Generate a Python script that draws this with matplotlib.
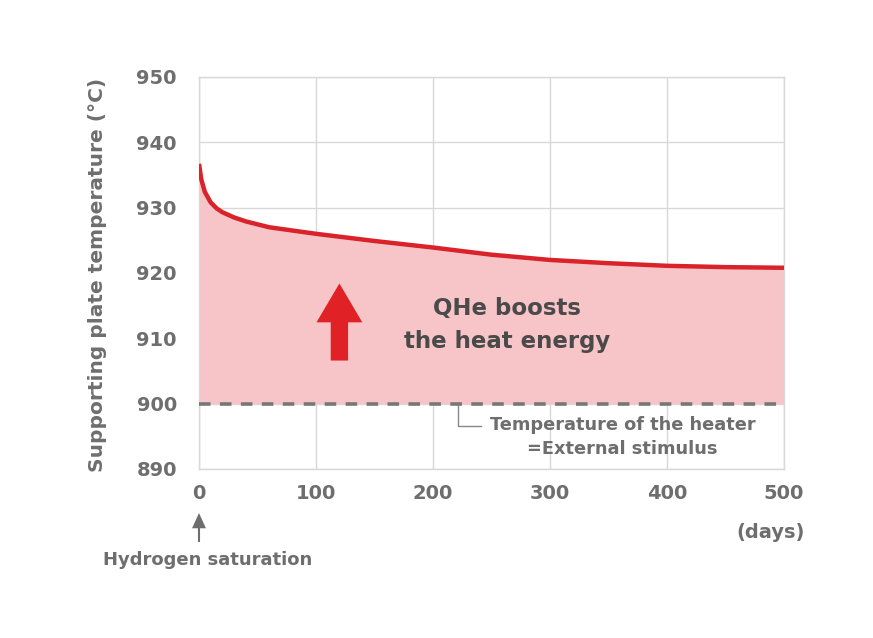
import matplotlib
matplotlib.use("Agg")
import matplotlib.pyplot as plt
from matplotlib.patches import FancyArrowPatch, ArrowStyle

days = [0, 2, 5, 10, 15, 20, 30, 40, 60, 80, 100, 150, 200, 250, 300, 350, 400, 450, 500]
temps = [936.7, 934.3, 932.4, 930.8, 929.9, 929.3, 928.5, 927.9, 927.0, 926.5, 926.0,
         924.9, 923.9, 922.8, 922.0, 921.5, 921.1, 920.9, 920.8]
heater_temp = 900
x_ticks = [0, 100, 200, 300, 400, 500]
y_ticks = [890, 900, 910, 920, 930, 940, 950]

plt.rcParams['font.family'] = ['DejaVu Sans']
GRAY = '#6e6e6e'

fig = plt.figure(figsize=(8.73, 6.38), dpi=100)
ax = fig.add_axes([199/873, 1-469/638, 585/873, 392/638])
ax.set_xlim(0, 500)
ax.set_ylim(890, 950)

ax.fill_between(days, heater_temp, temps, color='#f7c5c7', lw=0, zorder=1)
ax.plot(days, temps, color='#d9222a', lw=3.2, zorder=4, solid_capstyle='butt')
ax.axhline(heater_temp, color='#777777', lw=2.6, dashes=(3.2, 2.6), zorder=3)

ax.set_xticks(x_ticks)
ax.set_yticks(y_ticks)
ax.grid(True, color='#d8d8d8', lw=1, zorder=0)
ax.set_axisbelow(True)
for s in ax.spines.values():
    s.set_color('#d8d8d8')
    s.set_linewidth(1)
ax.tick_params(length=0, labelsize=14, labelcolor=GRAY)
ax.tick_params(axis='y', pad=16)
ax.tick_params(axis='x', pad=11)
for lab in ax.get_xticklabels() + ax.get_yticklabels():
    lab.set_fontweight('bold')

ax.set_ylabel('Supporting plate temperature (°C)', fontsize=14.5, fontweight='bold', color=GRAY)
ax.yaxis.set_label_coords(-0.158, 0.495)

# red arrow
arr = FancyArrowPatch((120, 906.6), (120, 918.4),
                      arrowstyle=ArrowStyle.Simple(head_length=28, head_width=33, tail_width=12.5),
                      mutation_scale=1, color='#e02126', lw=0, shrinkA=0, shrinkB=0, zorder=5)
ax.add_patch(arr)
ax.text(263, 912.0, 'QHe boosts\nthe heat energy', ha='center', va='center',
        fontsize=16.5, fontweight='bold', color='#4a4a4a', linespacing=1.55, zorder=6)

# heater annotation
ax.plot([221, 221, 241], [900, 896.6, 896.6], color='#888888', lw=1, zorder=2, clip_on=False)
ax.text(362, 894.9, 'Temperature of the heater\n=External stimulus', ha='center', va='center',
        fontsize=12.8, fontweight='bold', color=GRAY, linespacing=1.45)

# days label
fig.text(771/873, 1-532/638, '(days)', ha='center', va='center', fontsize=14,
         fontweight='bold', color=GRAY)
# hydrogen saturation
fig.patches.append(FancyArrowPatch((199/873, 1-542/638), (199/873, 1-513/638),
                                   transform=fig.transFigure,
                                   arrowstyle=ArrowStyle.Simple(head_length=11, head_width=10, tail_width=1.5),
                                   mutation_scale=1, color=GRAY, lw=0, shrinkA=0, shrinkB=0))
fig.text(208/873, 1-560/638, 'Hydrogen saturation', ha='center', va='center', fontsize=13,
         fontweight='bold', color=GRAY)

fig.savefig('out.png', dpi=100, facecolor='white')
